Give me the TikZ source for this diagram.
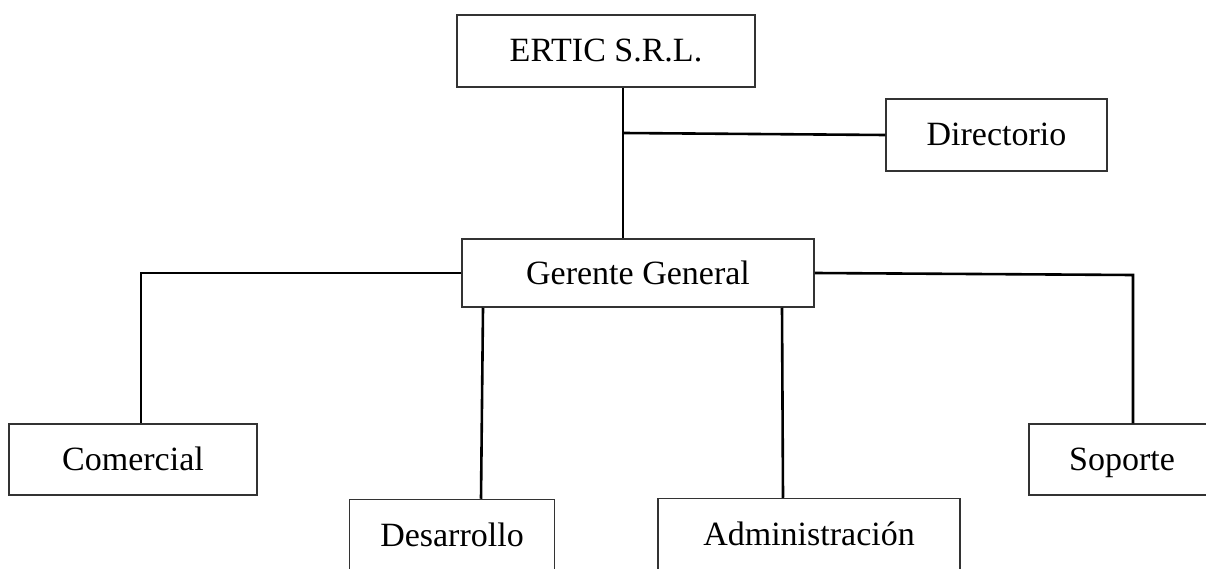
\documentclass[tikz,border=0pt]{standalone}
\usepackage{fontspec}
\setmainfont{Liberation Serif}
\begin{document}
\begin{tikzpicture}[x=1pt,y=-1pt,
  box/.style={draw=black!80, line width=1.5pt, inner sep=0pt, fill=white,
    font=\fontsize{34}{40}\selectfont, text height=23pt, text depth=1pt},
  conn/.style={draw=black, line width=2.6pt}]
\useasboundingbox (0,0) rectangle (1206,569);
\clip (0,0) rectangle (1206,569);
\coordinate (j1) at (623,133);
\coordinate (cl) at (141,273);
\coordinate (cr) at (1133,275);
\node[box, minimum width=298pt, minimum height=72pt] (ertic) at (606,51) {ERTIC S.R.L.};
\node[box, minimum width=221pt, minimum height=72pt] (dir) at (996.5,135) {Directorio};
\node[box, minimum width=352pt, minimum height=68pt] (ger) at (638,273) {Gerente General};
\node[box, minimum width=248pt, minimum height=71pt] (com) at (133,459.5) {Comercial};
\node[box, minimum width=205pt, minimum height=71pt] (des) at (452,535) {Desarrollo};
\node[box, minimum width=302pt, minimum height=71pt] (adm) at (809,534) {Administración};
\node[box, minimum width=186pt, minimum height=71pt] (sop) at (1122,459.5) {Soporte};
\draw[conn] ([xshift=17pt]ertic.south) -- ([xshift=17pt]ertic.south |- ger.north);
\draw[conn] (j1) -- (dir.west);
\draw[conn] (ger.west) -- (cl) -- (cl |- com.north);
\draw[conn] (ger.east) -- (cr) -- (cr |- sop.north);
\draw[conn] ([xshift=-155pt]ger.south) -- ([xshift=29pt]des.north);
\draw[conn] ([xshift=144pt]ger.south) -- ([xshift=-26pt]adm.north);
\end{tikzpicture}
\end{document}
